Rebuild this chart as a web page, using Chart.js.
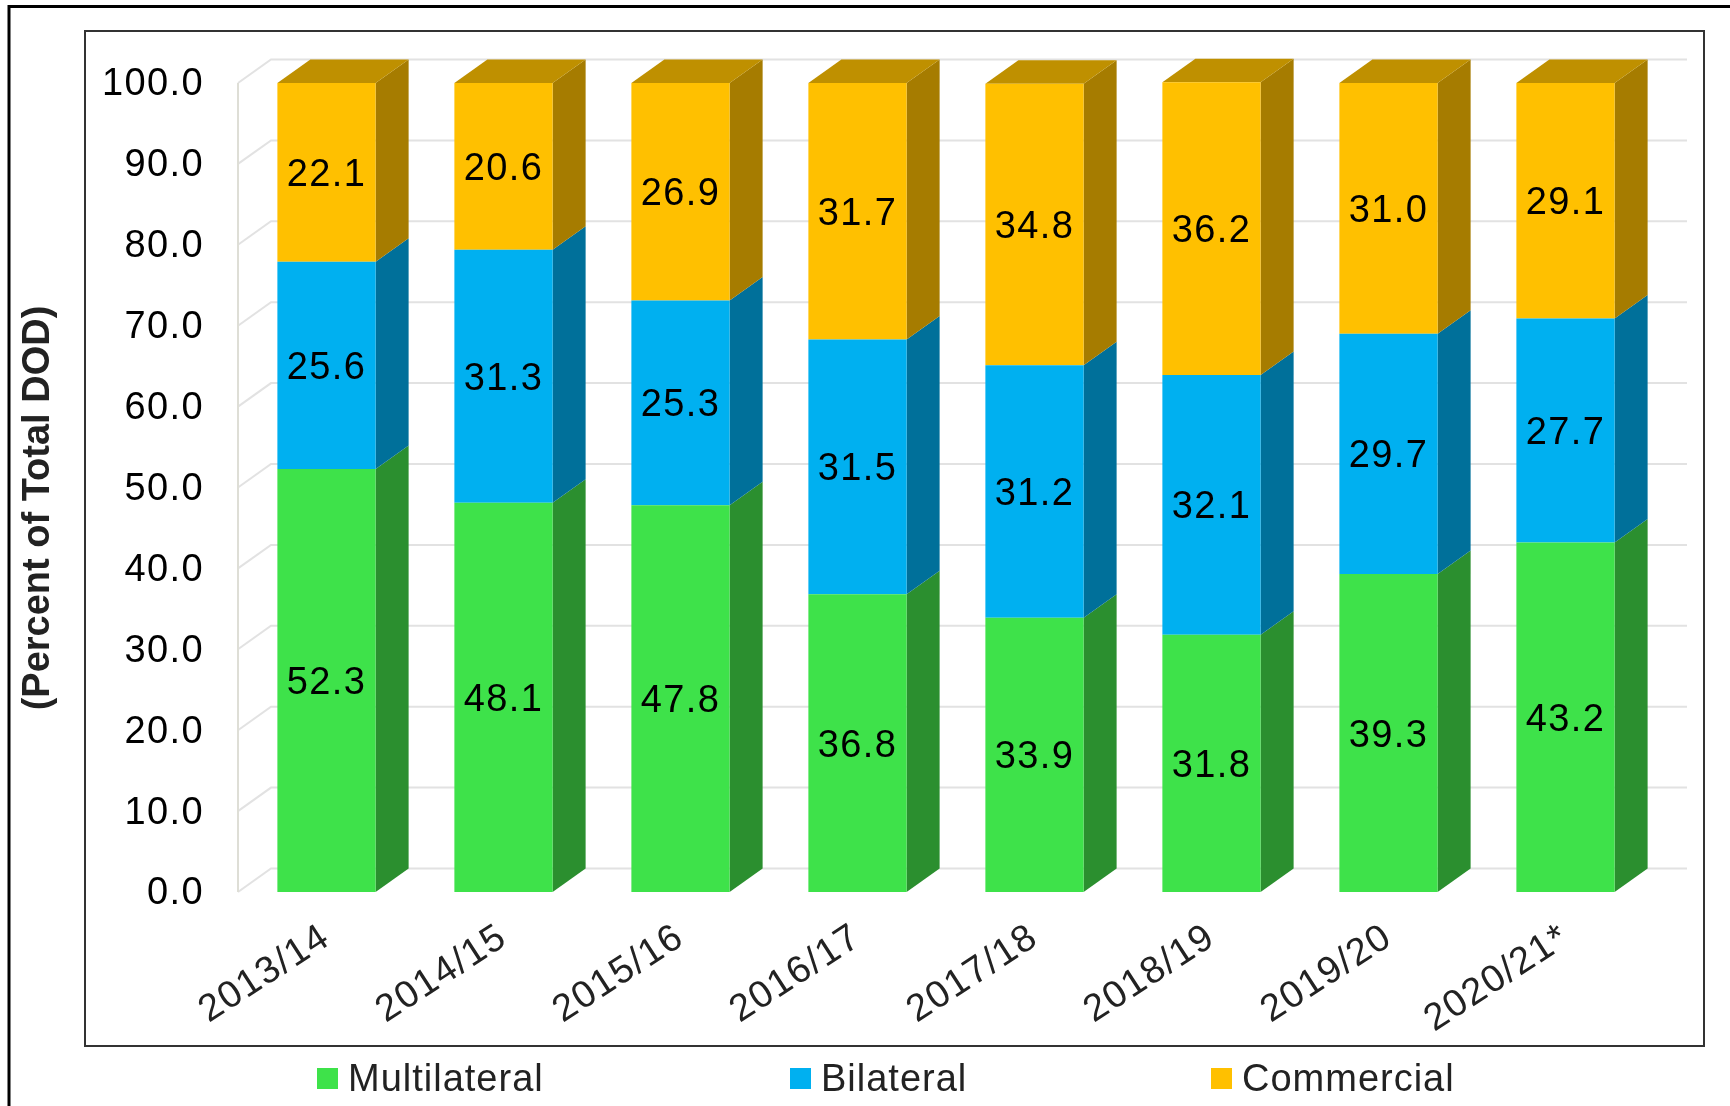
<!DOCTYPE html>
<html>
<head>
<meta charset="utf-8">
<title>Total DOD by creditor category</title>
<style>
  html, body { margin: 0; padding: 0; background: #fff; }
  canvas { display: block; }
</style>
<script src="https://cdn.jsdelivr.net/npm/chart.js@4"></script>
</head>
<body>
<canvas id="debtChart" width="1730" height="1106"></canvas>
<script>
const years = ['2013/14', '2014/15', '2015/16', '2016/17', '2017/18', '2018/19', '2019/20', '2020/21*'];
const multilateral = [52.3, 48.1, 47.8, 36.8, 33.9, 31.8, 39.3, 43.2];
const bilateral = [25.6, 31.3, 25.3, 31.5, 31.2, 32.1, 29.7, 27.7];
const commercial = [22.1, 20.6, 26.9, 31.7, 34.8, 36.2, 31.0, 29.1];

const axisTitle = '(Percent of Total DOD)';

// front, side and top colours of each series
const frontColors = ['#3ee24a', '#00b0f0', '#ffc000'];
const sideColors = ['#2b8f2f', '#00709a', '#a67c00'];
const topColor = '#bf9000';

// fake 3d: how far the back of the chart sits from the front
const depthX = 33;
const depthY = 23.5;

const fontFamily = '"Liberation Sans", Arial, sans-serif';
Chart.defaults.font.family = fontFamily;

const frame3d = {
  id: 'frame3d',
  beforeDraw(chart) {
    const ctx = chart.ctx;
    // the reference text runs a little wide, ticks pick this up too
    ctx.letterSpacing = '1.4px';
    ctx.save();
    ctx.fillStyle = '#fff';
    ctx.fillRect(0, 0, chart.width, chart.height);

    // page border, only the top and left of it are in the picture
    ctx.strokeStyle = '#000';
    ctx.lineWidth = 3;
    ctx.beginPath();
    ctx.moveTo(1730, 6.5);
    ctx.lineTo(9, 6.5);
    ctx.lineTo(9, 1106);
    ctx.stroke();

    // chart box
    ctx.strokeStyle = '#333';
    ctx.lineWidth = 2;
    ctx.strokeRect(85, 31, 1619, 1015);
    ctx.restore();
  },
  beforeDatasetsDraw(chart) {
    const ctx = chart.ctx;
    const yScale = chart.scales.y;
    const area = chart.chartArea;
    ctx.save();

    // gridlines on the back wall, with the step down to the left wall
    ctx.strokeStyle = '#e2e2e2';
    ctx.lineWidth = 2;
    yScale.ticks.forEach(tick => {
      const y = yScale.getPixelForValue(tick.value);
      ctx.beginPath();
      ctx.moveTo(area.left, y);
      ctx.lineTo(area.left + depthX, y - depthY);
      ctx.lineTo(area.right + depthX, y - depthY);
      ctx.stroke();
    });
    ctx.strokeStyle = '#deded6';
    ctx.beginPath();
    ctx.moveTo(area.left, yScale.getPixelForValue(0));
    ctx.lineTo(area.left, yScale.getPixelForValue(100));
    ctx.stroke();

    // side faces of every stack, and the lid of the top one
    chart.data.datasets.forEach((dataset, i) => {
      chart.getDatasetMeta(i).data.forEach(bar => {
        const props = bar.getProps(['x', 'y', 'base', 'width']);
        const right = props.x + props.width / 2;
        const left = props.x - props.width / 2;
        ctx.fillStyle = sideColors[i];
        ctx.beginPath();
        ctx.moveTo(right, props.base);
        ctx.lineTo(right + depthX, props.base - depthY);
        ctx.lineTo(right + depthX, props.y - depthY);
        ctx.lineTo(right, props.y);
        ctx.closePath();
        ctx.fill();
        if (i === chart.data.datasets.length - 1) {
          ctx.fillStyle = topColor;
          ctx.beginPath();
          ctx.moveTo(left, props.y);
          ctx.lineTo(left + depthX, props.y - depthY);
          ctx.lineTo(right + depthX, props.y - depthY);
          ctx.lineTo(right, props.y);
          ctx.closePath();
          ctx.fill();
        }
      });
    });
    ctx.restore();
  },
  afterDatasetsDraw(chart) {
    const ctx = chart.ctx;
    ctx.save();

    // value labels in the middle of each segment
    ctx.font = '38px ' + fontFamily;
    ctx.fillStyle = '#000';
    ctx.textAlign = 'center';
    ctx.textBaseline = 'middle';
    chart.data.datasets.forEach((dataset, i) => {
      chart.getDatasetMeta(i).data.forEach((bar, j) => {
        const props = bar.getProps(['x', 'y', 'base']);
        ctx.fillText(dataset.data[j].toFixed(1), props.x, (props.y + props.base) / 2 + 3);
      });
    });

    // axis title sits lower than the middle of the axis
    ctx.save();
    ctx.letterSpacing = '0px';
    ctx.translate(39, 508);
    ctx.rotate(-Math.PI / 2);
    ctx.font = 'bold 38px ' + fontFamily;
    ctx.fillStyle = '#222';
    ctx.fillText(axisTitle, 0, 0);
    ctx.restore();

    // legend, spread wider than the built in one allows
    const legendX = [317, 790, 1211];
    ctx.letterSpacing = '1px';
    ctx.font = '38px ' + fontFamily;
    ctx.textAlign = 'left';
    chart.data.datasets.forEach((dataset, i) => {
      ctx.fillStyle = frontColors[i];
      ctx.fillRect(legendX[i], 1068, 21, 21);
      ctx.fillStyle = '#222';
      ctx.fillText(dataset.label, legendX[i] + 31, 1081);
    });
    ctx.restore();
  }
};

new Chart(document.getElementById('debtChart'), {
  type: 'bar',
  data: {
    labels: years,
    datasets: [
      { label: 'Multilateral', data: multilateral, backgroundColor: frontColors[0] },
      { label: 'Bilateral', data: bilateral, backgroundColor: frontColors[1] },
      { label: 'Commercial', data: commercial, backgroundColor: frontColors[2] }
    ]
  },
  options: {
    responsive: false,
    animation: false,
    layout: { padding: { top: 83, right: 76, bottom: 0, left: 0 } },
    datasets: { bar: { barPercentage: 1, categoryPercentage: 0.555, clip: false } },
    plugins: { legend: { display: false }, tooltip: { enabled: false } },
    scales: {
      x: {
        stacked: true,
        grid: { display: false },
        border: { display: false },
        ticks: {
          minRotation: 33,
          maxRotation: 33,
          padding: 15,
          color: '#222',
          font: { size: 38 }
        },
        afterFit(scale) { scale.height = 214; }
      },
      y: {
        stacked: true,
        min: 0,
        max: 100,
        grid: { display: false },
        border: { display: false },
        ticks: {
          stepSize: 10,
          padding: 26,
          labelOffset: 2,
          color: '#000',
          font: { size: 38 },
          callback: value => value.toFixed(1)
        },
        afterFit(scale) { scale.width = 238; }
      }
    }
  },
  plugins: [frame3d]
});
</script>
</body>
</html>
